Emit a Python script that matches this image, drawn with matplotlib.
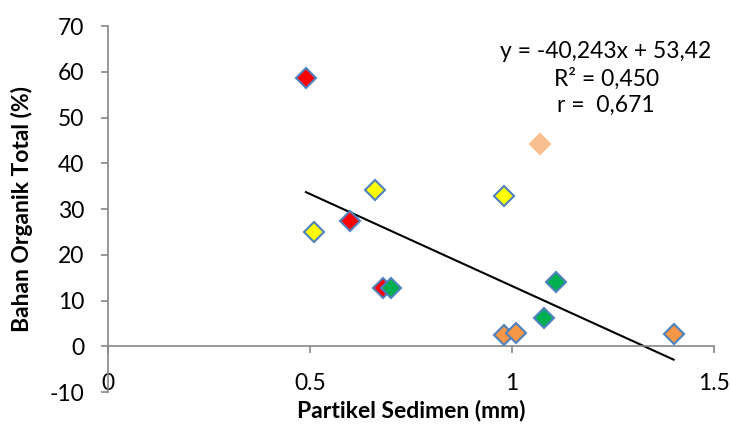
import matplotlib
matplotlib.use("Agg")
import matplotlib.pyplot as plt
import numpy as np

plt.rcParams['font.family'] = ['Lato', 'DejaVu Sans']
plt.rcParams['axes.unicode_minus'] = False

# data (x = particle size mm, y = total organic matter %)
red_x = [0.49, 0.60, 0.68]
red_y = [58.7, 27.4, 12.7]
yellow_x = [0.51, 0.66, 0.98]
yellow_y = [24.9, 34.2, 32.8]
green_x = [0.70, 1.08, 1.11]
green_y = [12.7, 6.1, 14.0]
orange_x = [0.98, 1.01, 1.40]
orange_y = [2.5, 2.8, 2.7]
peach_x = [1.07]
peach_y = [44.2]

slope, intercept = -40.243, 53.42
trend_x = [0.49, 1.40]

fig = plt.figure(figsize=(7.31, 4.25), dpi=100)
ax = fig.add_axes([0.1477, 0.0776, 0.829, 0.861])

edge = '#4F81BD'
ms = 10.5
ax.plot(red_x, red_y, 'D', ms=ms, mfc='#FF0000', mec=edge, mew=1.5, zorder=3)
ax.plot(yellow_x, yellow_y, 'D', ms=ms, mfc='#FFFF00', mec=edge, mew=1.5, zorder=3)
ax.plot(green_x, green_y, 'D', ms=ms, mfc='#00B050', mec=edge, mew=1.5, zorder=3)
ax.plot(orange_x, orange_y, 'D', ms=ms, mfc='#F79646', mec=edge, mew=1.5, zorder=3)
ax.plot(peach_x, peach_y, 'D', ms=ms, mfc='#FABF8F', mec='#FABF8F', mew=1.5, zorder=3)

tx = np.array(trend_x)
ax.plot(tx, slope * tx + intercept, color='black', lw=1.5, zorder=2)

ax.set_xlim(0, 1.5)
ax.set_ylim(-10, 70)
ax.set_xticks([0, 0.5, 1, 1.5])
ax.set_xticklabels(['0', '0.5', '1', '1.5'])
ax.set_yticks(np.arange(-10, 71, 10))

for s in ['top', 'right']:
    ax.spines[s].set_visible(False)
for s in ['left', 'bottom']:
    ax.spines[s].set_color('#868686')
    ax.spines[s].set_linewidth(1.2)
ax.spines['bottom'].set_position(('data', 0))

ax.tick_params(axis='both', colors='#868686', labelcolor='black', labelsize=16.5,
               length=5, width=1.2, direction='out')
ax.tick_params(axis='x', pad=14)
ax.tick_params(axis='y', pad=12)

ax.set_xlabel('Partikel Sedimen (mm)', fontsize=16.5, fontweight='bold', va='center')
ax.set_ylabel('Bahan Organik Total (%)', fontsize=16.5, fontweight='bold', va='center')
ax.xaxis.set_label_coords(0.5, -0.05)
ax.yaxis.set_label_coords(-0.142, 0.5)

ax.text(1.233, 58.6, 'y = -40,243x + 53,42\nR² = 0,450\nr =  0,671', fontsize=16.5,
        ha='center', va='center', linespacing=1.3)

fig.savefig('out.png', dpi=100)
